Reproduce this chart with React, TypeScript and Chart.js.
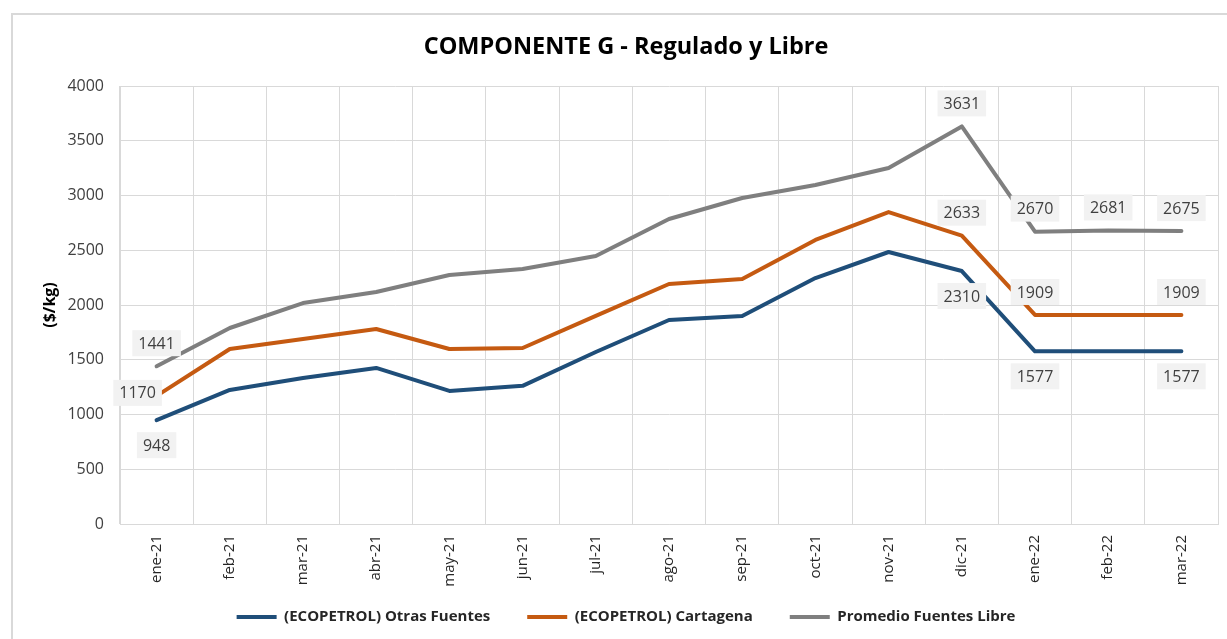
import React, { useEffect, useRef } from "react";
import { Chart, registerables } from "chart.js";

Chart.register(...registerables);

const categories = [
  "ene-21", "feb-21", "mar-21", "abr-21", "may-21", "jun-21", "jul-21", "ago-21",
  "sep-21", "oct-21", "nov-21", "dic-21", "ene-22", "feb-22", "mar-22",
];

const otrasFuentes = [948, 1224, 1333, 1425, 1215, 1262, 1571, 1863, 1900, 2246, 2484, 2310, 1577, 1577, 1577];
const cartagena = [1170, 1598, 1690, 1781, 1598, 1607, 1900, 2192, 2237, 2594, 2849, 2633, 1909, 1909, 1909];
const promedioLibre = [1441, 1790, 2018, 2119, 2274, 2329, 2447, 2785, 2977, 3096, 3251, 3631, 2670, 2681, 2675];

const seriesNames = ["(ECOPETROL) Otras Fuentes", "(ECOPETROL) Cartagena", "Promedio Fuentes Libre"];
const seriesColors = ["#1F4E79", "#C55A11", "#7F7F7F"];

const yTicks = [0, 500, 1000, 1500, 2000, 2500, 3000, 3500, 4000];

// which points carry a value label: [datasetIndex, pointIndex, placement]
const labelPoints: [number, number, string][] = [
  [2, 0, "above"], [2, 11, "above"], [2, 12, "above"], [2, 13, "above"], [2, 14, "above"],
  [1, 0, "left"], [1, 11, "above"], [1, 12, "above"], [1, 14, "above"],
  [0, 0, "below"], [0, 11, "below"], [0, 12, "below"], [0, 14, "below"],
];

const FONT = '"Open Sans", "Noto Sans", sans-serif';

const dataLabelPlugin = {
  id: "dataLabelsCustom",
  afterDatasetsDraw(chart: any) {
    const ctx = chart.ctx;
    ctx.save();
    ctx.font = `16px ${FONT}`;
    ctx.textAlign = "center";
    ctx.textBaseline = "middle";
    for (const [ds, i, pos] of labelPoints) {
      const el = chart.getDatasetMeta(ds).data[i];
      if (!el) continue;
      const value = chart.data.datasets[ds].data[i];
      const text = String(value);
      let cx = el.x;
      let cy = el.y;
      if (pos === "above") cy -= 23;
      else if (pos === "below") cy += 25;
      else if (pos === "left") { cx -= 19; cy -= 3; }
      const w = ctx.measureText(text).width + 12;
      const h = 26;
      ctx.fillStyle = "#F2F2F2";
      ctx.fillRect(cx - w / 2, cy - h / 2, w, h);
      ctx.fillStyle = "#404040";
      ctx.fillText(text, cx, cy + 1);
    }
    ctx.restore();
  },
};

export default function App() {
  const ref = useRef<HTMLCanvasElement | null>(null);

  useEffect(() => {
    if (!ref.current) return;
    const datasets = [otrasFuentes, cartagena, promedioLibre].map((d, k) => ({
      label: seriesNames[k],
      data: d,
      borderColor: seriesColors[k],
      backgroundColor: seriesColors[k],
      borderWidth: 4,
      pointRadius: 0,
      tension: 0,
      borderCapStyle: "round" as const,
      borderJoinStyle: "round" as const,
    }));
    const chart = new Chart(ref.current, {
      type: "line",
      data: { labels: categories, datasets },
      plugins: [dataLabelPlugin],
      options: {
        animation: false,
        responsive: false,
        layout: { padding: { left: 34, top: 8, right: 9, bottom: 4.5 } },
        plugins: {
          title: {
            display: true,
            text: "COMPONENTE G - Regulado y Libre",
            color: "#000000",
            font: { family: FONT, size: 23.5, weight: "bold" },
            padding: { top: 25, bottom: 24.8 },
          },
          legend: {
            position: "bottom",
            labels: {
              boxWidth: 40,
              boxHeight: 4,
              padding: 37,
              color: "#262626",
              font: { family: FONT, size: 15, weight: "bold" },
              generateLabels: (c: any) =>
                Chart.defaults.plugins.legend.labels.generateLabels(c).map((l: any) => ({ ...l, lineWidth: 0 })),
            },
          },
          tooltip: { enabled: false },
        },
        scales: {
          x: {
            offset: true,
            grid: { offset: true, color: "#D9D9D9", drawTicks: false, lineWidth: 1 },
            border: { color: "#D9D9D9" },
            ticks: {
              minRotation: 90,
              maxRotation: 90,
              padding: 11,
              color: "#262626",
              font: { family: FONT, size: 15 },
            },
            afterFit: (s: any) => {
              s.height = 48.5;
              s._computeLabelArea = () => undefined;
            },
          },
          y: {
            min: 0,
            max: 4000,
            afterBuildTicks: (s: any) => { s.ticks = yTicks.map((v) => ({ value: v })); },
            grid: { color: "#D9D9D9", drawTicks: false, lineWidth: 1 },
            border: { color: "#D9D9D9" },
            ticks: {
              padding: 16,
              color: "#404040",
              font: { family: FONT, size: 16 },
              callback: (v: any) => String(v),
            },
            title: {
              display: true,
              text: "($/kg)",
              color: "#000000",
              font: { family: FONT, size: 16, weight: "bold" },
              padding: { top: 6.4, bottom: 0 },
            },
            afterFit: (s: any) => { s.width = 86; },
          },
        },
      },
    });
    return () => chart.destroy();
  }, []);

  return (
    <div style={{ position: "fixed", left: 0, top: 0, width: 1227, height: 639, background: "#fff", overflow: "hidden" }}>
      <div style={{ position: "absolute", left: 11, top: 13, width: 1240, height: 660, border: "2px solid #D9D9D9", boxSizing: "border-box" }} />
      <canvas ref={ref} width={1227} height={639} style={{ position: "absolute", left: 0, top: 0 }} />
    </div>
  );
}
